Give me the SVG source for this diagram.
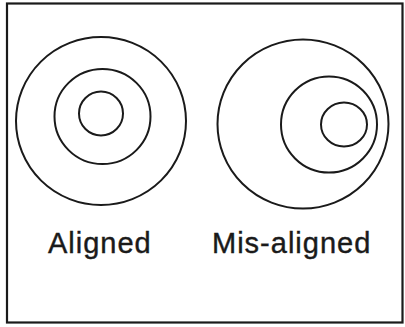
<svg xmlns="http://www.w3.org/2000/svg" width="405" height="327" viewBox="0 0 405 327">
<style>
.c{fill:none;stroke:#1a1a1a;stroke-width:2}
.t{font-family:"Liberation Sans",Arial,sans-serif;font-size:29px;letter-spacing:1px;fill:#1a1a1a;stroke:#1a1a1a;stroke-width:0.4}
</style>
<rect x="0" y="0" width="405" height="327" fill="#ffffff"/>
<rect id="frame" x="7" y="3.5" width="395.5" height="319" fill="none" stroke="#1a1a1a" stroke-width="2.2"/>
<g id="aligned">
<ellipse class="c" cx="101" cy="121" rx="85" ry="84"/>
<ellipse class="c" cx="102.5" cy="116.5" rx="48" ry="47.5"/>
<ellipse class="c" cx="101" cy="113.5" rx="22" ry="22"/>
<text class="t" x="48" y="252.5">Aligned</text>
</g>
<g id="misaligned">
<ellipse class="c" cx="303" cy="124" rx="85.5" ry="84.5"/>
<ellipse class="c" cx="329" cy="124.5" rx="48" ry="48"/>
<ellipse class="c" cx="344" cy="124.5" rx="23" ry="22"/>
<text class="t" x="212" y="252.5">Mis-aligned</text>
</g>
</svg>
